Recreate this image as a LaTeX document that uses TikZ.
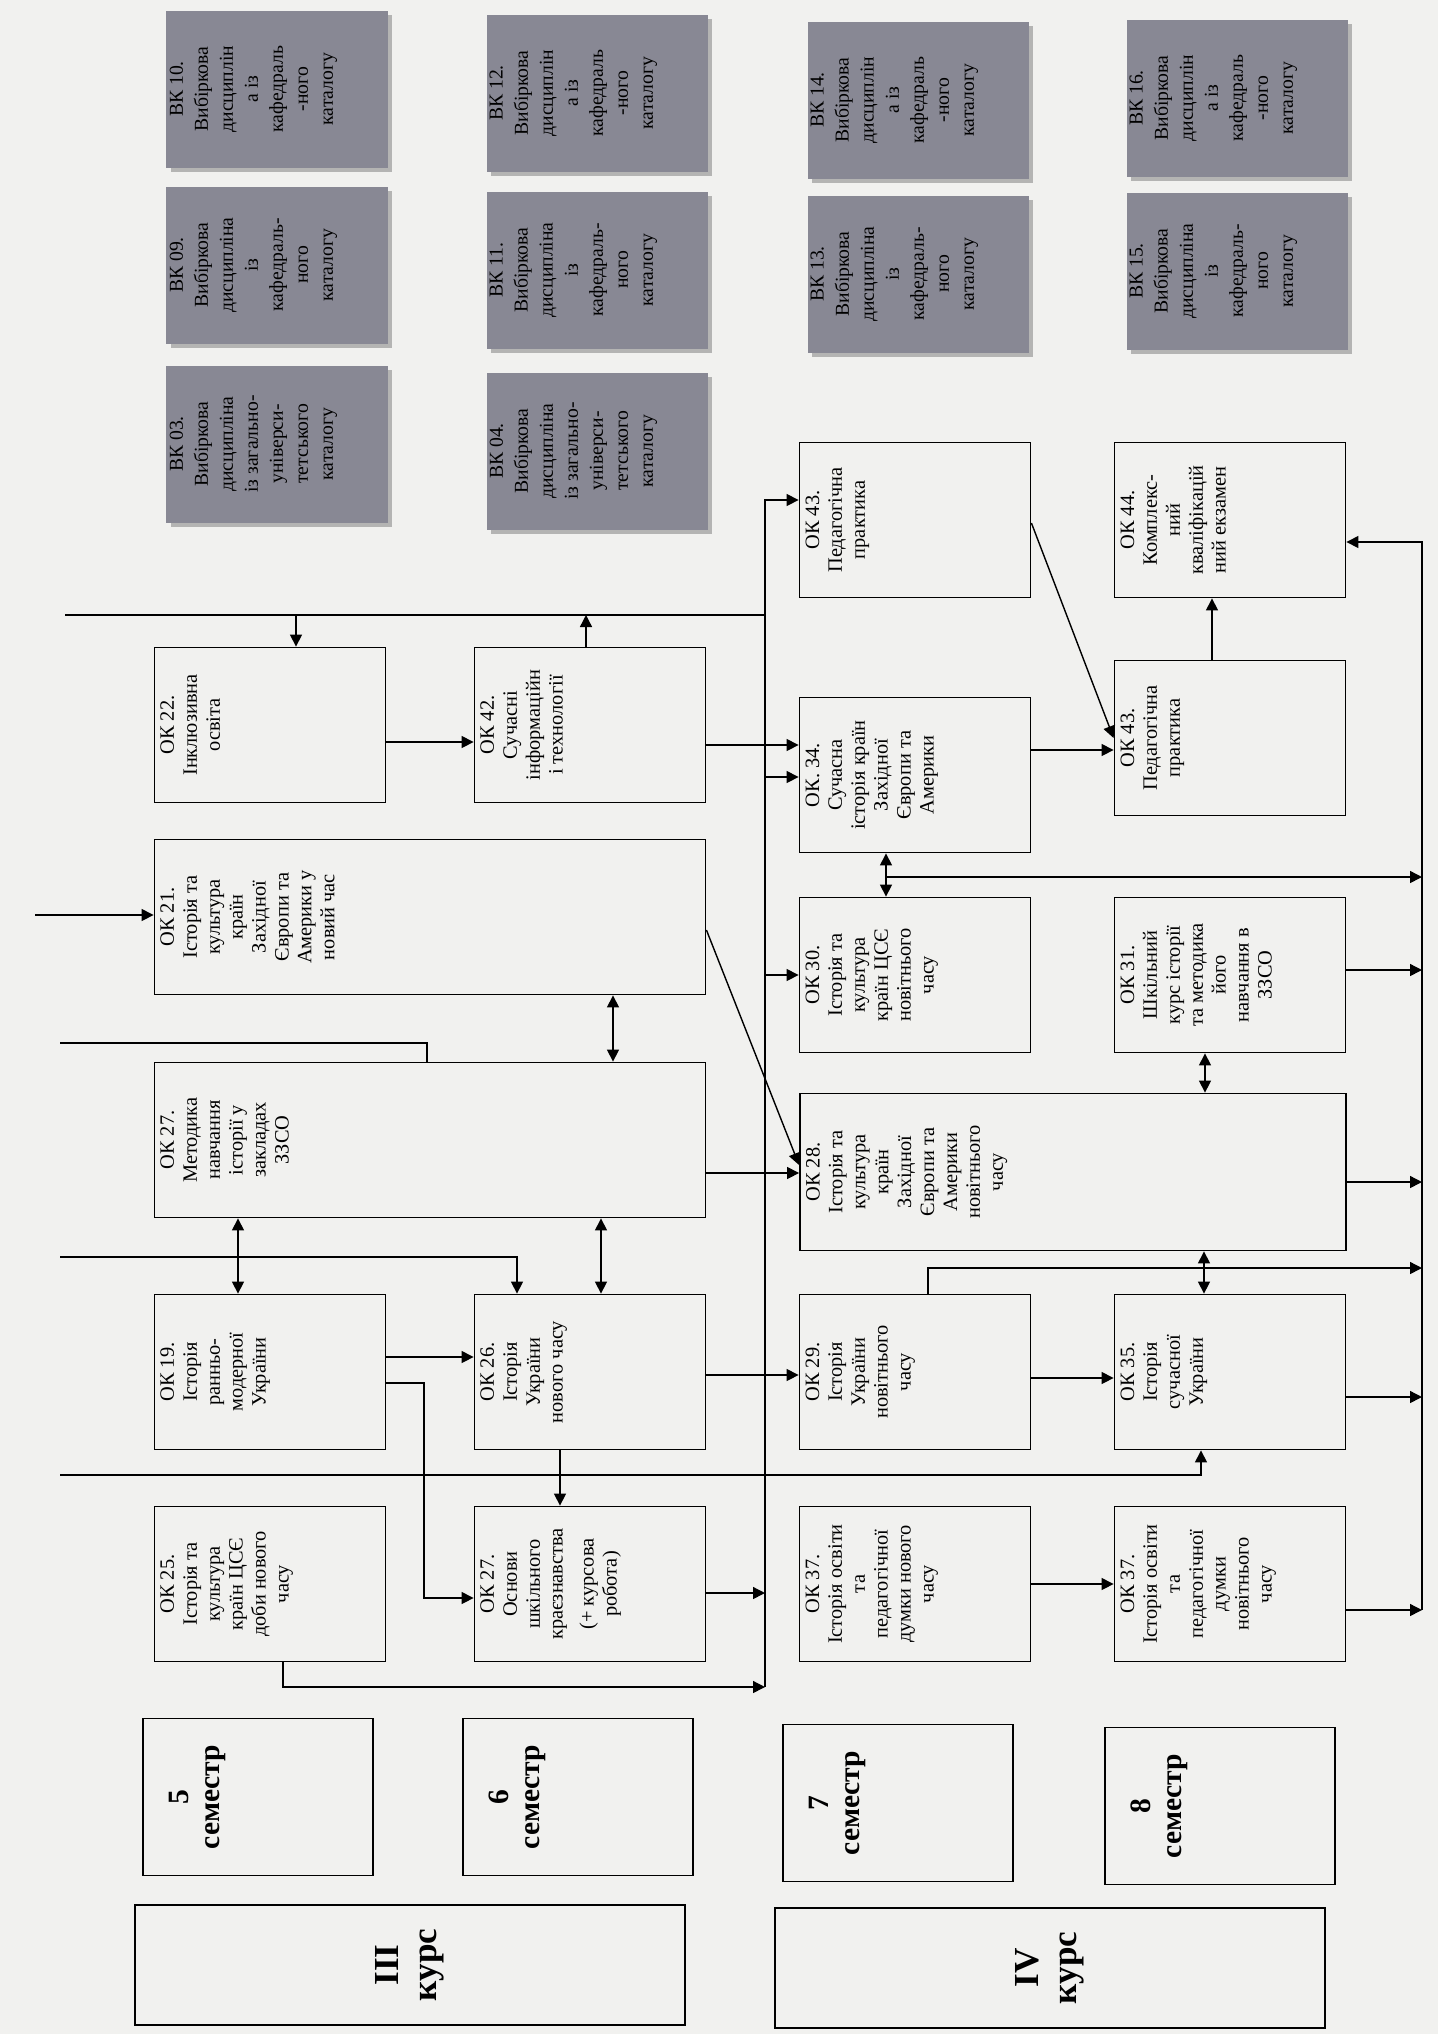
\documentclass[tikz,border=0pt]{standalone}
\usepackage{fontspec}
\setmainfont{Liberation Serif}
\usepackage{rotating}
\usetikzlibrary{arrows.meta,shadows}

\definecolor{paper}{RGB}{241,241,239}
\definecolor{vkgrey}{RGB}{136,136,148}

\tikzset{
  disc/.style n args={3}{draw, line width=1.3pt, inner sep=0pt,
    font=\fontsize{14.5}{16.3}\selectfont,
    execute at begin node={\begin{turn}{90}\begin{minipage}[t][#1][t]{#2}\centering\vspace{#3}},
    execute at end node={\end{minipage}\end{turn}}},
  okbox/.style={disc={57.75mm}{38.75mm}{1.5mm}},
  okwide/.style={disc={137.75mm}{38.75mm}{1.5mm}},
  vkbox/.style={disc={55.25mm}{39.25mm}{0.8mm}, draw=none, fill=vkgrey,
    font=\fontsize{14}{17.8}\selectfont,
    drop shadow={shadow xshift=1.2mm, shadow yshift=-1.2mm, fill=black!45, opacity=.6}},
  sembox/.style={disc={57.5mm}{39.25mm}{6.5mm}, font=\fontsize{21}{22}\bfseries},
  coursebox/.style={draw, line width=1.3pt, rotate=90, align=center,
    minimum width=30mm, minimum height=137.5mm, font=\fontsize{25}{27}\bfseries},
  wire/.style={line width=1pt},
  arr/.style={wire, -{Triangle[length=3mm,width=3mm]}},
  darr/.style={wire, {Triangle[length=3mm,width=3mm]}-{Triangle[length=3mm,width=3mm]}},
}

\begin{document}
\begin{tikzpicture}[x=0.25mm, y=-0.25mm]
  \useasboundingbox (0,0) rectangle (1438,2034);
  \fill[paper] (0,0) rectangle (1438,2034);

  % courses and semesters
  \node[coursebox] (kurs3) at (410,1965) {III\\курс};
  \node[coursebox] (kurs4) at (1050,1968) {IV\\курс};
  \node[sembox] (sem5) at (258,1797) {5\\семестр};
  \node[sembox] (sem6) at (578,1797) {6\\семестр};
  \node[sembox] (sem7) at (898,1803) {7\\семестр};
  \node[sembox] (sem8) at (1220,1806) {8\\семестр};

  % 5th and 6th semester
  \node[okbox] (ok25) at (270,1584) {ОК 25.\\ Історія та\\ культура\\ країн ЦСЄ\\ доби нового\\ часу};
  \node[okbox] (ok27osn) at (590,1584) {ОК 27.\\ Основи\\ шкільного\\ краєзнавства\\[2mm] (+ курсова\\ робота)};
  \node[okbox] (ok19) at (270,1372) {ОК 19.\\ Історія\\ ранньо-\\ модерної\\ України};
  \node[okbox] (ok26) at (590,1372) {ОК 26.\\ Історія\\ України\\ нового часу};
  \node[okwide] (ok27met) at (430,1140) {ОК 27.\\ Методика\\ навчання\\ історії у\\ закладах\\ ЗЗСО};
  \node[okwide] (ok21) at (430,917) {ОК 21.\\ Історія та\\ культура\\ країн\\ Західної\\ Європи та\\ Америки у\\ новий час};
  \node[okbox] (ok22) at (270,725) {ОК 22.\\ Інклюзивна\\ освіта};
  \node[okbox] (ok42) at (590,725) {ОК 42.\\ Сучасні\\ інформаційн\\ і технології};

  % 7th and 8th semester
  \node[okbox] (ok37nov) at (915,1584) {ОК 37.\\ Історія освіти\\ та\\ педагогічної\\ думки нового\\ часу};
  \node[okbox] (ok37nvt) at (1230,1584) {ОК 37.\\ Історія освіти\\ та\\ педагогічної\\ думки\\ новітнього\\ часу};
  \node[okbox] (ok29) at (915,1372) {ОК 29.\\ Історія\\ України\\ новітнього\\ часу};
  \node[okbox] (ok35) at (1230,1372) {ОК 35.\\ Історія\\ сучасної\\ України};
  \node[disc={136.5mm}{39.25mm}{1.5mm}] (ok28) at (1073,1172) {ОК 28.\\ Історія та\\ культура\\ країн\\ Західної\\ Європи та\\ Америки\\ новітнього\\ часу};
  \node[okbox] (ok30) at (915,975) {ОК 30.\\ Історія та\\ культура\\ країн ЦСЄ\\ новітнього\\ часу};
  \node[okbox] (ok31) at (1230,975) {ОК 31.\\ Шкільний\\ курс історії\\ та методика\\ його\\ навчання в\\ ЗЗСО};
  \node[okbox] (ok34) at (915,775) {ОК. 34.\\ Сучасна\\ історія країн\\ Західної\\ Європи та\\ Америки};
  \node[okbox] (ok43b) at (1230,738) {ОК 43.\\ Педагогічна\\ практика};
  \node[okbox] (ok43a) at (915,520) {ОК 43.\\ Педагогічна\\ практика};
  \node[okbox] (ok44) at (1230,520) {ОК 44.\\ Комплекс-\\ ний\\ кваліфікацій\\ ний екзамен};

  % elective courses
  \node[vkbox] (vk03) at (277,444) {ВК 03.\\ Вибіркова\\ дисципліна\\ із загально-\\ універси-\\ тетського\\ каталогу};
  \node[vkbox] (vk09) at (277,265) {ВК 09.\\ Вибіркова\\ дисципліна\\ із\\ кафедраль-\\ ного\\ каталогу};
  \node[vkbox] (vk10) at (277,89) {ВК 10.\\ Вибіркова\\ дисциплін\\ а із\\ кафедраль\\ -ного\\ каталогу};
  \node[vkbox] (vk04) at (597,451) {ВК 04.\\ Вибіркова\\ дисципліна\\ із загально-\\ універси-\\ тетського\\ каталогу};
  \node[vkbox] (vk11) at (597,270) {ВК 11.\\ Вибіркова\\ дисципліна\\ із\\ кафедраль-\\ ного\\ каталогу};
  \node[vkbox] (vk12) at (597,93) {ВК 12.\\ Вибіркова\\ дисциплін\\ а із\\ кафедраль\\ -ного\\ каталогу};
  \node[vkbox] (vk13) at (918,274) {ВК 13.\\ Вибіркова\\ дисципліна\\ із\\ кафедраль-\\ ного\\ каталогу};
  \node[vkbox] (vk14) at (918,100) {ВК 14.\\ Вибіркова\\ дисциплін\\ а із\\ кафедраль\\ -ного\\ каталогу};
  \node[vkbox] (vk15) at (1237,271) {ВК 15.\\ Вибіркова\\ дисципліна\\ із\\ кафедраль-\\ ного\\ каталогу};
  \node[vkbox] (vk16) at (1237,98) {ВК 16.\\ Вибіркова\\ дисциплін\\ а із\\ кафедраль\\ -ного\\ каталогу};

  % free ends of the lines
  \coordinate (inA) at (65,615);
  \coordinate (inB) at (35,915);
  \coordinate (inC) at (60,1043);
  \coordinate (inD) at (60,1257);
  \coordinate (inE) at (60,1475);
  \coordinate (busT) at (765,500);
  \coordinate (busB) at (765,1687);
  \coordinate (outT) at (1422,542);
  \coordinate (outB) at (1422,1610);
  \coordinate (mid34) at (886,877);

  % lines from the previous courses
  \draw[wire] (inA) -- (inA -| busT);
  \draw[arr] (inA -| 296,0) -- (ok22.north -| 296,0);
  \draw[arr] (ok42.north -| 586,0) -- (inA -| 586,0);
  \draw[arr] (inB) -- (inB -| ok21.west);
  \draw[wire] (inC) -- (inC -| 427,0) -- (ok27met.north -| 427,0);
  \draw[arr] (inD) -- (inD -| 517,0) -- (ok26.north -| 517,0);
  \draw[arr] (inE) -- (inE -| 1201,0) -- (ok35.south -| 1201,0);

  % third course
  \draw[arr] (ok22.east |- 0,742) -- (ok42.west |- 0,742);
  \draw[arr] (ok19.east |- 0,1357) -- (ok26.west |- 0,1357);
  \draw[arr] (ok19.east |- 0,1383) -| (424,1598) -- (ok27osn.west |- 0,1598);
  \draw[arr] (ok26.south -| 560,0) -- (ok27osn.north -| 560,0);
  \draw[darr] (ok27met.south -| 238,0) -- (ok19.north -| 238,0);
  \draw[darr] (ok27met.south -| 601,0) -- (ok26.north -| 601,0);
  \draw[darr] (ok21.south -| 613,0) -- (ok27met.north -| 613,0);

  % bus between the courses
  \draw[arr] (busB) -- (busT) -- (busT -| ok43a.west);
  \draw[arr] (ok25.south -| 283,0) -- (busB -| 283,0) -- (busB);
  \draw[arr] (ok27osn.east |- 0,1593) -- (busB |- 0,1593);
  \draw[arr] (busB |- 0,975) -- (ok30.west |- 0,975);
  \draw[arr] (busB |- 0,777) -- (ok34.west |- 0,777);
  \draw[arr] (ok42.east |- 0,745) -- (ok34.west |- 0,745);
  \draw[arr] (ok26.east |- 0,1375) -- (ok29.west |- 0,1375);
  \draw[arr] (ok27met.east |- 0,1173) -- (ok28.west |- 0,1173);
  \draw[arr] (ok21.east |- 0,930) -- (ok28.west |- 0,1165);

  % fourth course
  \draw[arr] (ok29.east |- 0,1378) -- (ok35.west |- 0,1378);
  \draw[arr] (ok37nov) -- (ok37nvt);
  \draw[darr] (ok28.south -| 1204,0) -- (ok35.north -| 1204,0);
  \draw[darr] (ok28.north -| 1205,0) -- (ok31.south -| 1205,0);
  \draw[darr] (ok34.south -| 886,0) -- (ok30.north -| 886,0);
  \draw[arr] (ok34.east |- 0,750) -- (ok43b.west |- 0,750);
  \draw[arr] (ok43a.east |- 0,523) -- (ok43b.west |- 0,738);
  \draw[arr] (ok43b.north -| 1212,0) -- (ok44.south -| 1212,0);

  % outputs
  \draw[arr] (outB) -- (outT) -- (outT -| ok44.east);
  \draw[arr] (ok37nvt.east |- outB) -- (outB);
  \draw[arr] (ok35.east |- 0,1397) -- (outB |- 0,1397);
  \draw[arr] (ok29.north -| 928,0) |- (outB |- 0,1268);
  \draw[arr] (ok28.east |- 0,1182) -- (outB |- 0,1182);
  \draw[arr] (ok31.east |- 0,970) -- (outB |- 0,970);
  \draw[arr] (mid34) -- (outB |- mid34);
\end{tikzpicture}
\end{document}
